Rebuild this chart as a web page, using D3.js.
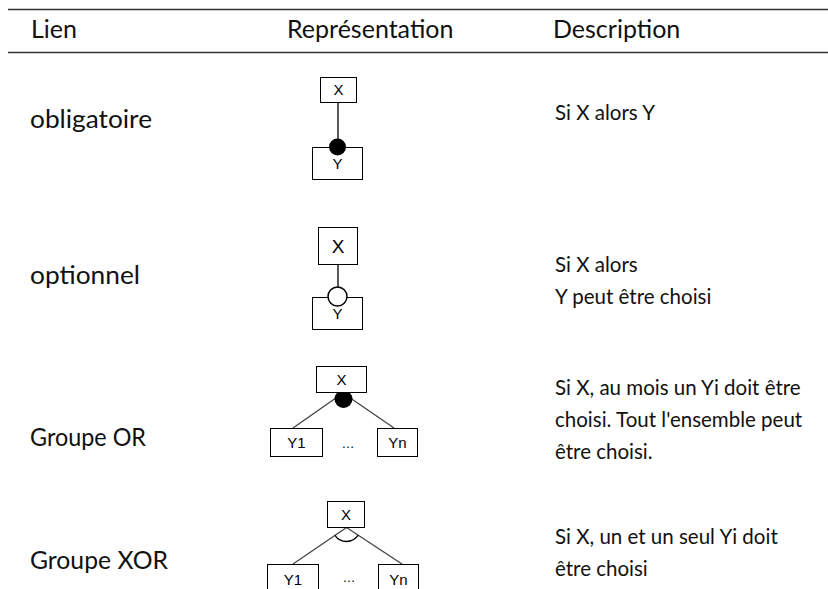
<!DOCTYPE html>
<html><head><meta charset="utf-8">
<script src="https://cdn.jsdelivr.net/npm/d3@7"></script>
<style>body{margin:0;background:#fff}svg{display:block}</style>
</head><body>
<script>
const headers = ["Lien", "Représentation", "Description"];
const links = ["obligatoire", "optionnel", "Groupe OR", "Groupe XOR"];
const descriptions = [
  ["Si X alors Y"],
  ["Si X alors", "Y peut être choisi"],
  ["Si X, au mois un Yi doit être", "choisi. Tout l'ensemble peut", "être choisi."],
  ["Si X, un et un seul Yi doit", "être choisi"]
];
const parents = ["X", "X", "X", "X"];
const children = [["Y"], ["Y"], ["Y1", "Yn"], ["Y1", "Yn"]];

const W = 828, H = 589;
const svg = d3.select("body").append("svg").attr("width", W).attr("height", H);
const txtFont = "Lato, 'Open Sans', sans-serif";
const diaFont = "'Liberation Sans', Arial, sans-serif";

// table rules
svg.append("line").attr("x1", 8).attr("x2", W).attr("y1", 9.5).attr("y2", 9.5)
  .attr("stroke", "#333").attr("stroke-width", 1.5);
svg.append("line").attr("x1", 8).attr("x2", W).attr("y1", 52.5).attr("y2", 52.5)
  .attr("stroke", "#333").attr("stroke-width", 1.5);

const colX = d3.scaleOrdinal().domain(headers).range([31, 287, 553]);
svg.selectAll("text.h").data(headers).join("text").attr("class", "h")
  .attr("x", d => colX(d)).attr("y", 38)
  .attr("font-family", txtFont).attr("font-size", 25).attr("fill", "#111").text(d => d);

const rowBase = d3.scaleOrdinal().domain(links).range([128, 284, 446, 569]);
const labelWidth = d3.scaleOrdinal().domain(links).range([122, 110, 116, 138]);
svg.selectAll("text.l").data(links).join("text").attr("class", "l")
  .attr("x", 30).attr("y", d => rowBase(d))
  .attr("textLength", d => labelWidth(d)).attr("lengthAdjust", "spacingAndGlyphs")
  .attr("font-family", txtFont).attr("font-size", 25).attr("fill", "#111").text(d => d);

const descTop = [120, 272, 395, 544];
descriptions.forEach((lines, i) => {
  svg.selectAll(null).data(lines).join("text")
    .attr("x", 555).attr("y", (d, j) => descTop[i] + j * 32)
    .attr("font-family", txtFont).attr("font-size", 20.5).attr("fill", "#111").text(d => d);
});

function box(g, x, y, w, h, label, fs) {
  g.append("rect").attr("x", x).attr("y", y).attr("width", w).attr("height", h)
    .attr("fill", "#fff").attr("stroke", "#000").attr("stroke-width", 1);
  g.append("text").attr("x", x + w / 2).attr("y", y + h / 2 + fs * 0.36)
    .attr("text-anchor", "middle").attr("font-family", diaFont).attr("font-size", fs)
    .attr("fill", "#000").text(label);
}

// Row 1: mandatory
{
  const g = svg.append("g");
  g.append("line").attr("x1", 338).attr("x2", 338).attr("y1", 102).attr("y2", 147).attr("stroke", "#000").attr("stroke-width", 1.3);
  box(g, 312.5, 147.5, 50, 32, children[0][0], 15);
  box(g, 320.5, 77.5, 36, 25, parents[0], 15);
  g.append("circle").attr("cx", 337.5).attr("cy", 147).attr("r", 8.5).attr("fill", "#000");
}
// Row 2: optional
{
  const g = svg.append("g");
  g.append("line").attr("x1", 338).attr("x2", 338).attr("y1", 264).attr("y2", 296).attr("stroke", "#000").attr("stroke-width", 1.3);
  box(g, 312.5, 297.5, 50, 32, children[1][0], 15);
  box(g, 318.5, 227.5, 39, 37, parents[1], 19);
  g.append("circle").attr("cx", 337.5).attr("cy", 296.5).attr("r", 9.5).attr("fill", "#fff").attr("stroke", "#000").attr("stroke-width", 1.5);
}
// Row 3: OR group
{
  const g = svg.append("g");
  const ax = 343, ay = 393;
  g.append("line").attr("x1", ax).attr("y1", ay).attr("x2", 293).attr("y2", 428).attr("stroke", "#444").attr("stroke-width", 1.3);
  g.append("line").attr("x1", ax).attr("y1", ay).attr("x2", 394).attr("y2", 428).attr("stroke", "#444").attr("stroke-width", 1.3);
  g.append("circle").attr("cx", 343.5).attr("cy", 399).attr("r", 9).attr("fill", "#000");
  box(g, 316.5, 366.5, 50, 26, parents[2], 15);
  box(g, 270.5, 428.5, 52, 28, children[2][0], 15);
  box(g, 377.5, 428.5, 40, 28, children[2][1], 15);
  g.append("text").attr("x", 348).attr("y", 448).attr("text-anchor", "middle").attr("font-family", diaFont).attr("font-size", 13).text("…");
}
// Row 4: XOR group
{
  const g = svg.append("g");
  const ax = 346.5, ay = 527.5;
  const l = [293, 564], r = [402, 564];
  g.append("line").attr("x1", ax).attr("y1", ay).attr("x2", l[0]).attr("y2", l[1]).attr("stroke", "#444").attr("stroke-width", 1.3);
  g.append("line").attr("x1", ax).attr("y1", ay).attr("x2", r[0]).attr("y2", r[1]).attr("stroke", "#444").attr("stroke-width", 1.3);
  let a1 = Math.atan2(l[0] - ax, -(l[1] - ay)), a2 = Math.atan2(r[0] - ax, -(r[1] - ay));
  if (a1 < 0) a1 += 2 * Math.PI;
  const arc = d3.arc().innerRadius(14).outerRadius(14).startAngle(a2).endAngle(a1);
  g.append("path").attr("transform", `translate(${ax},${ay})`).attr("d", arc())
    .attr("fill", "none").attr("stroke", "#000").attr("stroke-width", 1.3);
  box(g, 327.5, 501.5, 37, 26, parents[3], 15);
  box(g, 267.5, 564.5, 51, 30, children[3][0], 15);
  box(g, 378.5, 564.5, 40, 30, children[3][1], 15);
  g.append("text").attr("x", 349).attr("y", 582).attr("text-anchor", "middle").attr("font-family", diaFont).attr("font-size", 13).text("…");
}
</script>
</body></html>
